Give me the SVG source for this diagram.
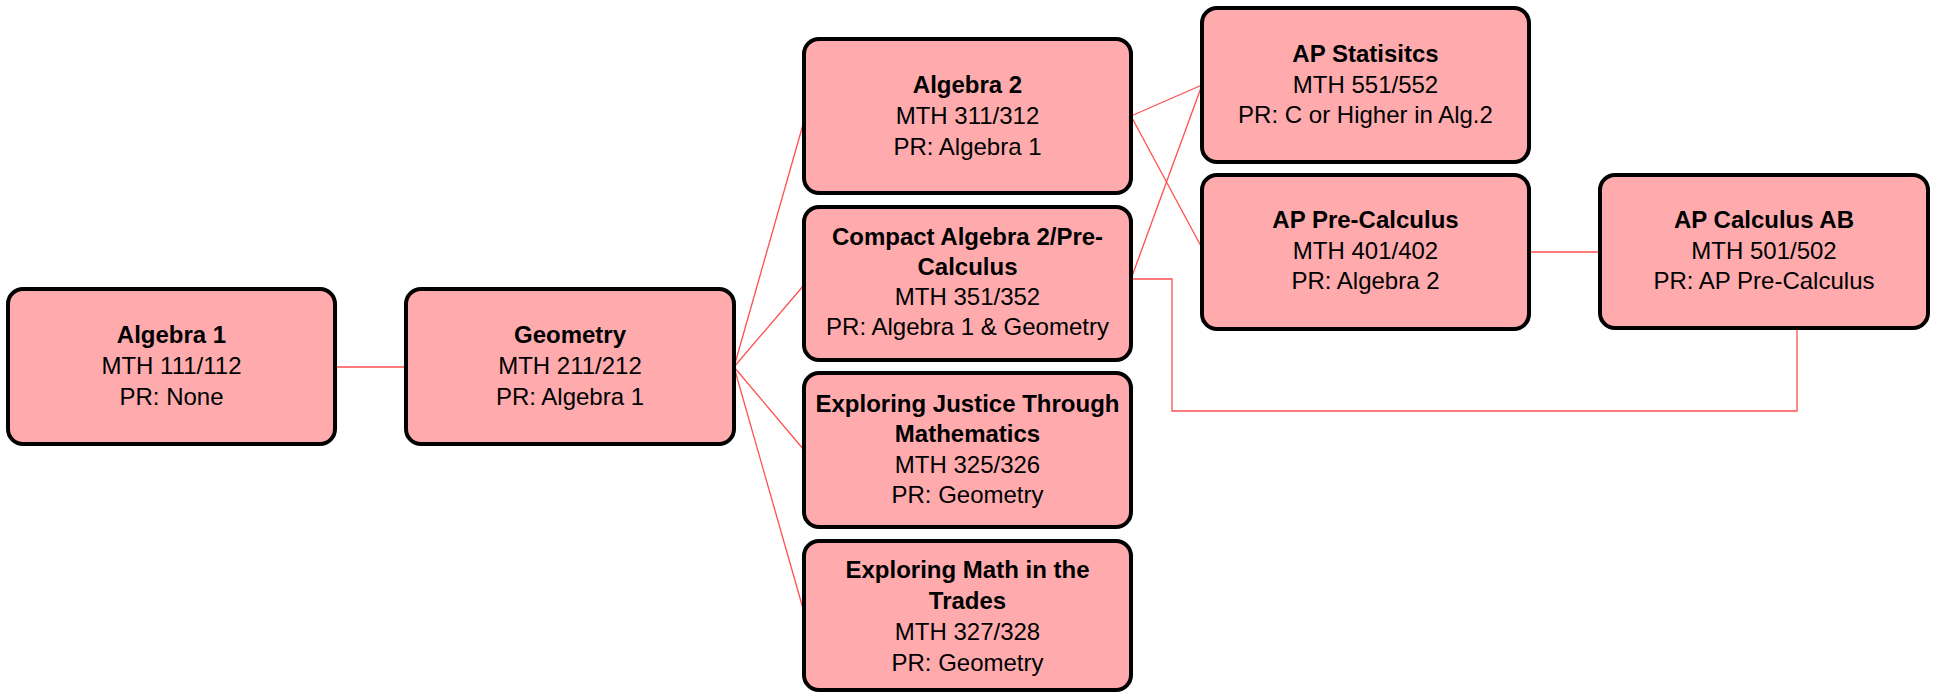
<svg xmlns="http://www.w3.org/2000/svg" width="1937" height="693" viewBox="0 0 1937 693">
<style>
.box{fill:#FFABAE;stroke:#000;stroke-width:4}
.t{font-family:"Liberation Sans",Arial,sans-serif;font-size:24px;fill:#000;text-anchor:middle}
.b{font-weight:bold}
.c{fill:none;stroke:#FF4F4F;stroke-width:1.3}
</style>
<rect width="1937" height="693" fill="#fff"/>
<g id="connectors">
<line class="c" x1="335" y1="367" x2="406" y2="367"/>
<line class="c" x1="734" y1="367" x2="804" y2="121"/>
<line class="c" x1="734" y1="367" x2="804" y2="285"/>
<line class="c" x1="734" y1="367" x2="804" y2="450"/>
<line class="c" x1="734" y1="367" x2="804" y2="612"/>
<line class="c" x1="1131" y1="116" x2="1202" y2="85"/>
<line class="c" x1="1131" y1="116" x2="1202" y2="248"/>
<line class="c" x1="1131" y1="279" x2="1202" y2="85"/>
<polyline class="c" points="1131,279 1172,279 1172,411 1797,411 1797,328"/>
<line class="c" x1="1529" y1="252" x2="1600" y2="252"/>
</g>
<g id="algebra1">
<rect class="box" x="8" y="289" width="327" height="155" rx="15"/>
<text class="t b" x="171.5" y="343">Algebra 1</text>
<text class="t" x="171.5" y="374">MTH 111/112</text>
<text class="t" x="171.5" y="405">PR: None</text>
</g>
<g id="geometry">
<rect class="box" x="406" y="289" width="328" height="155" rx="15"/>
<text class="t b" x="570" y="343">Geometry</text>
<text class="t" x="570" y="374">MTH 211/212</text>
<text class="t" x="570" y="405">PR: Algebra 1</text>
</g>
<g id="algebra2">
<rect class="box" x="804" y="39" width="327" height="154" rx="15"/>
<text class="t b" x="967.5" y="93">Algebra 2</text>
<text class="t" x="967.5" y="124">MTH 311/312</text>
<text class="t" x="967.5" y="155">PR: Algebra 1</text>
</g>
<g id="compact">
<rect class="box" x="804" y="207" width="327" height="153" rx="15"/>
<text class="t b" x="967.5" y="245">Compact Algebra 2/Pre-</text>
<text class="t b" x="967.5" y="275">Calculus</text>
<text class="t" x="967.5" y="305">MTH 351/352</text>
<text class="t" x="967.5" y="335">PR: Algebra 1 &amp; Geometry</text>
</g>
<g id="justice">
<rect class="box" x="804" y="373" width="327" height="154" rx="15"/>
<text class="t b" x="967.5" y="412">Exploring Justice Through</text>
<text class="t b" x="967.5" y="442">Mathematics</text>
<text class="t" x="967.5" y="473">MTH 325/326</text>
<text class="t" x="967.5" y="503">PR: Geometry</text>
</g>
<g id="trades">
<rect class="box" x="804" y="541" width="327" height="149" rx="15"/>
<text class="t b" x="967.5" y="578">Exploring Math in the</text>
<text class="t b" x="967.5" y="609">Trades</text>
<text class="t" x="967.5" y="640">MTH 327/328</text>
<text class="t" x="967.5" y="671">PR: Geometry</text>
</g>
<g id="apstats">
<rect class="box" x="1202" y="8" width="327" height="154" rx="15"/>
<text class="t b" x="1365.5" y="62">AP Statisitcs</text>
<text class="t" x="1365.5" y="93">MTH 551/552</text>
<text class="t" x="1365.5" y="123">PR: C or Higher in Alg.2</text>
</g>
<g id="apprecalc">
<rect class="box" x="1202" y="175" width="327" height="154" rx="15"/>
<text class="t b" x="1365.5" y="228">AP Pre-Calculus</text>
<text class="t" x="1365.5" y="259">MTH 401/402</text>
<text class="t" x="1365.5" y="289">PR: Algebra 2</text>
</g>
<g id="apcalc">
<rect class="box" x="1600" y="175" width="328" height="153" rx="15"/>
<text class="t b" x="1764" y="228">AP Calculus AB</text>
<text class="t" x="1764" y="259">MTH 501/502</text>
<text class="t" x="1764" y="289">PR: AP Pre-Calculus</text>
</g>
</svg>
